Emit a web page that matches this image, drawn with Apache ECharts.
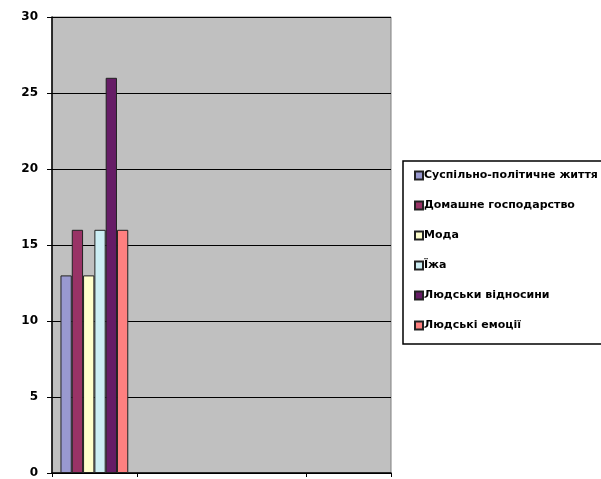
<!DOCTYPE html>
<html>
<head>
<meta charset="utf-8">
<script src="https://cdn.jsdelivr.net/npm/echarts@6/dist/echarts.min.js"></script>
<style>
  html, body { margin: 0; padding: 0; background: #fff; }
  #echarts { width: 601px; height: 479px; }
</style>
</head>
<body>
<div id="echarts"></div>
<script>
const categories = ['1', '2', '3', '4']
const seriesNames = ['Суспільно-політичне життя', 'Домашне господарство', 'Мода', 'Їжа', 'Людськи відносини', 'Людські емоції']
const seriesValues = [
  [13, null, null, null],
  [16, null, null, null],
  [13, null, null, null],
  [16, null, null, null],
  [26, null, null, null],
  [16, null, null, null]
]
const colors = ['#9999D0', '#993366', '#FFFFCC', '#CCEEF4', '#661C66', '#FF8080']

const myChart = echarts.init(document.getElementById('echarts'))
const font = 'DejaVu Sans'
myChart.setOption({
  animation: false,
  color: colors,
  grid: {
    left: 52, right: 210, top: 17, bottom: 3,
    show: true,
    backgroundColor: '#C0C0C0',
    borderColor: '#808080',
    borderWidth: 1
  },
  legend: {
    orient: 'vertical',
    left: 403, top: 161,
    padding: [9, 8, 13, 11],
    itemGap: 19,
    itemWidth: 8, itemHeight: 8,
    icon: 'rect',
    borderColor: '#000', borderWidth: 1.5,
    data: seriesNames,
    textStyle: { fontFamily: font, fontSize: 11, fontWeight: 'bold', color: '#000', padding: [0, 0, 0, -4] }
  },
  xAxis: {
    type: 'category',
    data: categories,
    axisLine: { lineStyle: { color: '#000', width: 1.5 } },
    axisTick: { show: true, length: 4, lineStyle: { color: '#000' }, interval: function (i) { return i !== 2 } },
    axisLabel: { show: false }
  },
  yAxis: {
    type: 'value',
    min: 0, max: 30, interval: 5,
    axisLine: { show: true, lineStyle: { color: '#000', width: 1.5 } },
    axisTick: { show: true, length: 5, lineStyle: { color: '#000' } },
    axisLabel: { fontFamily: font, fontSize: 12, fontWeight: 'bold', color: '#000', margin: 14 },
    splitLine: { lineStyle: { color: '#000', width: 1 } }
  },
  series: seriesNames.map(function (name, i) {
    return {
      name: name,
      type: 'bar',
      data: seriesValues[i],
      barGap: 0,
      barCategoryGap: '20%',
      itemStyle: { borderColor: '#222', borderWidth: 1 }
    }
  })
})
</script>
</body>
</html>
